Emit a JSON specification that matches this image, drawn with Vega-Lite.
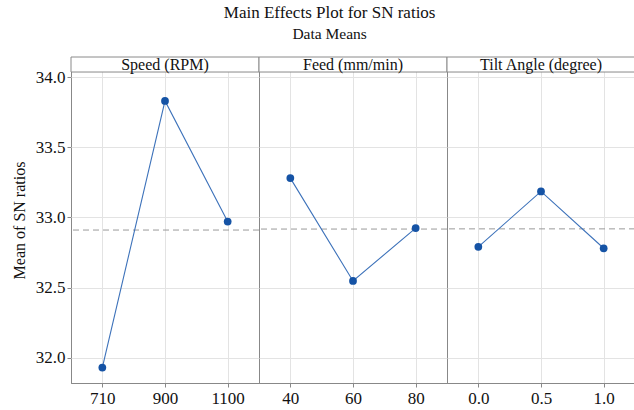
{
  "$schema": "https://vega.github.io/schema/vega-lite/v6.json",
  "padding": {"left": 11, "top": 3, "right": 0, "bottom": 0},
  "background": "white",
  "title": {
    "text": "Main Effects Plot for SN ratios",
    "subtitle": "Data Means",
    "font": "Liberation Serif",
    "fontSize": 17,
    "fontWeight": "normal",
    "color": "#111",
    "subtitleFont": "Liberation Serif",
    "subtitleFontSize": 15.5,
    "subtitleColor": "#111",
    "subtitlePadding": 5,
    "anchor": "middle",
    "dx": 6,
    "offset": 13
  },
  "data": {
    "values": [
      {"factor": "Speed (RPM)", "level": "710", "sn": 31.93},
      {"factor": "Speed (RPM)", "level": "900", "sn": 33.83},
      {"factor": "Speed (RPM)", "level": "1100", "sn": 32.97},
      {"factor": "Feed (mm/min)", "level": "40", "sn": 33.28},
      {"factor": "Feed (mm/min)", "level": "60", "sn": 32.547},
      {"factor": "Feed (mm/min)", "level": "80", "sn": 32.924},
      {"factor": "Tilt Angle (degree)", "level": "0.0", "sn": 32.79},
      {"factor": "Tilt Angle (degree)", "level": "0.5", "sn": 33.185},
      {"factor": "Tilt Angle (degree)", "level": "1.0", "sn": 32.78}
    ]
  },
  "facet": {
    "column": {
      "field": "factor",
      "type": "nominal",
      "sort": ["Speed (RPM)", "Feed (mm/min)", "Tilt Angle (degree)"],
      "header": null
    }
  },
  "spacing": 0,
  "bounds": "flush",
  "resolve": {"scale": {"x": "independent"}},
  "spec": {
    "width": 188,
    "height": 326,
    "encoding": {
      "y": {
        "type": "quantitative",
        "scale": {"domain": [31.82, 34.143], "nice": false, "zero": false}
      }
    },
    "layer": [
      {
        "mark": {"type": "rule", "color": "#9a9a9a", "strokeDash": [6, 4], "strokeWidth": 1},
        "encoding": {
          "y": {"aggregate": "mean", "field": "sn", "type": "quantitative"}
        }
      },
      {
        "mark": {"type": "line", "color": "#3d72ba", "strokeWidth": 1.1},
        "encoding": {
          "x": {
            "field": "level",
            "type": "ordinal",
            "sort": null,
            "scale": {"type": "point", "padding": 0.5},
            "axis": {
              "title": null,
              "labelAngle": 0,
              "labelFont": "Liberation Serif",
              "labelFontSize": 17,
              "labelColor": "#111",
              "labelPadding": 3,
              "grid": true,
              "gridColor": "#e3e3e3",
              "domainColor": "#888",
              "tickColor": "#888",
              "tickSize": 4
            }
          },
          "y": {
            "field": "sn",
            "type": "quantitative",
            "axis": {
              "title": "Mean of SN ratios",
              "titleFont": "Liberation Serif",
              "titleFontSize": 16,
              "titleFontWeight": "normal",
              "titleColor": "#111",
              "titlePadding": 8,
              "values": [32, 32.5, 33, 33.5, 34],
              "format": ".1f",
              "labelFont": "Liberation Serif",
              "labelFontSize": 17,
              "labelColor": "#111",
              "labelPadding": 2,
              "grid": true,
              "gridColor": "#e3e3e3",
              "domainColor": "#888",
              "tickColor": "#888",
              "tickSize": 4
            }
          }
        }
      },
      {
        "mark": {"type": "point", "filled": true, "opacity": 1, "color": "#1553a5", "size": 60},
        "encoding": {
          "x": {"field": "level", "type": "ordinal", "sort": null},
          "y": {"field": "sn", "type": "quantitative"}
        }
      },
      {
        "transform": [{"aggregate": [{"op": "count", "as": "n"}], "groupby": ["factor"]}],
        "mark": {"type": "rect", "fill": "white", "stroke": "#8a8a8a", "strokeWidth": 1},
        "encoding": {
          "y": {"datum": 34.036, "type": "quantitative"},
          "y2": {"datum": 34.143}
        }
      },
      {
        "transform": [{"aggregate": [{"op": "count", "as": "n"}], "groupby": ["factor"]}],
        "mark": {"type": "text", "font": "Liberation Serif", "fontSize": 16, "color": "#111", "baseline": "middle"},
        "encoding": {
          "y": {"datum": 34.089, "type": "quantitative"},
          "text": {"field": "factor", "type": "nominal"}
        }
      }
    ]
  },
  "config": {
    "view": {"stroke": "#888", "strokeWidth": 1},
    "axis": {"labelFont": "Liberation Serif", "titleFont": "Liberation Serif"}
  }
}
